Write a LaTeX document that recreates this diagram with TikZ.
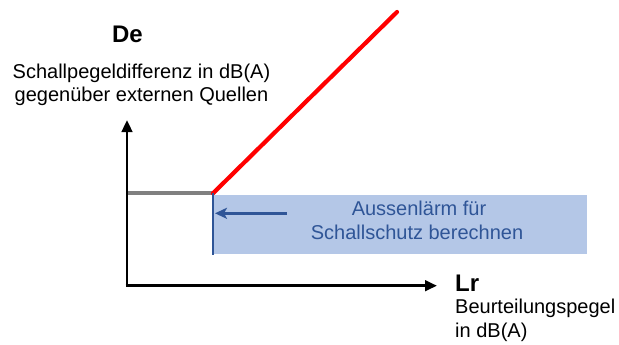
\documentclass[tikz,border=0pt]{standalone}
\usepackage{fontspec}
\setmainfont{Liberation Sans}
\usetikzlibrary{arrows.meta}
\definecolor{boxblue}{HTML}{B4C7E7}
\definecolor{textblue}{HTML}{2F5597}
\definecolor{flatgray}{HTML}{808080}
\tikzset{
  axis/.style={line width=2.8pt, -{Triangle[length=12pt,width=10.5pt]}},
  lbl/.style={inner sep=0pt, font=\fontsize{20}{23}\selectfont},
  title/.style={inner sep=0pt, font=\fontsize{24}{28}\selectfont\bfseries},
}
\begin{document}
\begin{tikzpicture}[x=1pt,y=-1pt]
\useasboundingbox (0,0) rectangle (619,345);
% shaded region to the right of the knee
\fill[boxblue] (213,195) rectangle (587,254);
% characteristic: flat part and rising part
\coordinate (start) at (127,193.3);
\coordinate (knee) at (213,193.3);
\coordinate (top) at (397,12);
\draw[flatgray, line width=4pt] (start) -- (knee);
\draw[red, line width=4.2pt, line cap=round] (knee) -- (top);
% marker line and arrow into the region
\coordinate (mtop) at (213,193);
\coordinate (mbot) at (213,255);
\draw[textblue, line width=2pt] (mtop) -- (mbot);
\coordinate (afrom) at (287,213.3);
\coordinate (ato) at (215,213.3);
\draw[textblue, line width=2.4pt, -{Stealth[length=12pt,width=11pt,inset=3pt]}] (afrom) -- (ato);
% axes
\coordinate (origin) at (127,285.7);
\coordinate (ytip) at (127,120);
\coordinate (xtip) at (437,285.7);
\draw[axis] (origin) -- (ytip);
\draw[axis] ([xshift=-1.4pt]origin) -- (xtip);
% labels
\node[title, anchor=base] (de) at (127.5,43) {De};
\node[lbl, anchor=base] (de1) at (141.5,79) {Schallpegeldifferenz in dB(A)};
\node[lbl, anchor=base] (de2) at (141.5,102) {gegenüber externen Quellen};
\node[title, anchor=base west] (lr) at (455,291.7) {Lr};
\node[lbl, anchor=base west] (lr1) at (455,313.5) {Beurteilungspegel};
\node[lbl, anchor=base west] (lr2) at (455,337) {in dB(A)};
\node[lbl, anchor=base, text=textblue] (b1) at (419,215) {Aussenlärm für};
\node[lbl, anchor=base, text=textblue] (b2) at (417,239) {Schallschutz berechnen};
\end{tikzpicture}
\end{document}
